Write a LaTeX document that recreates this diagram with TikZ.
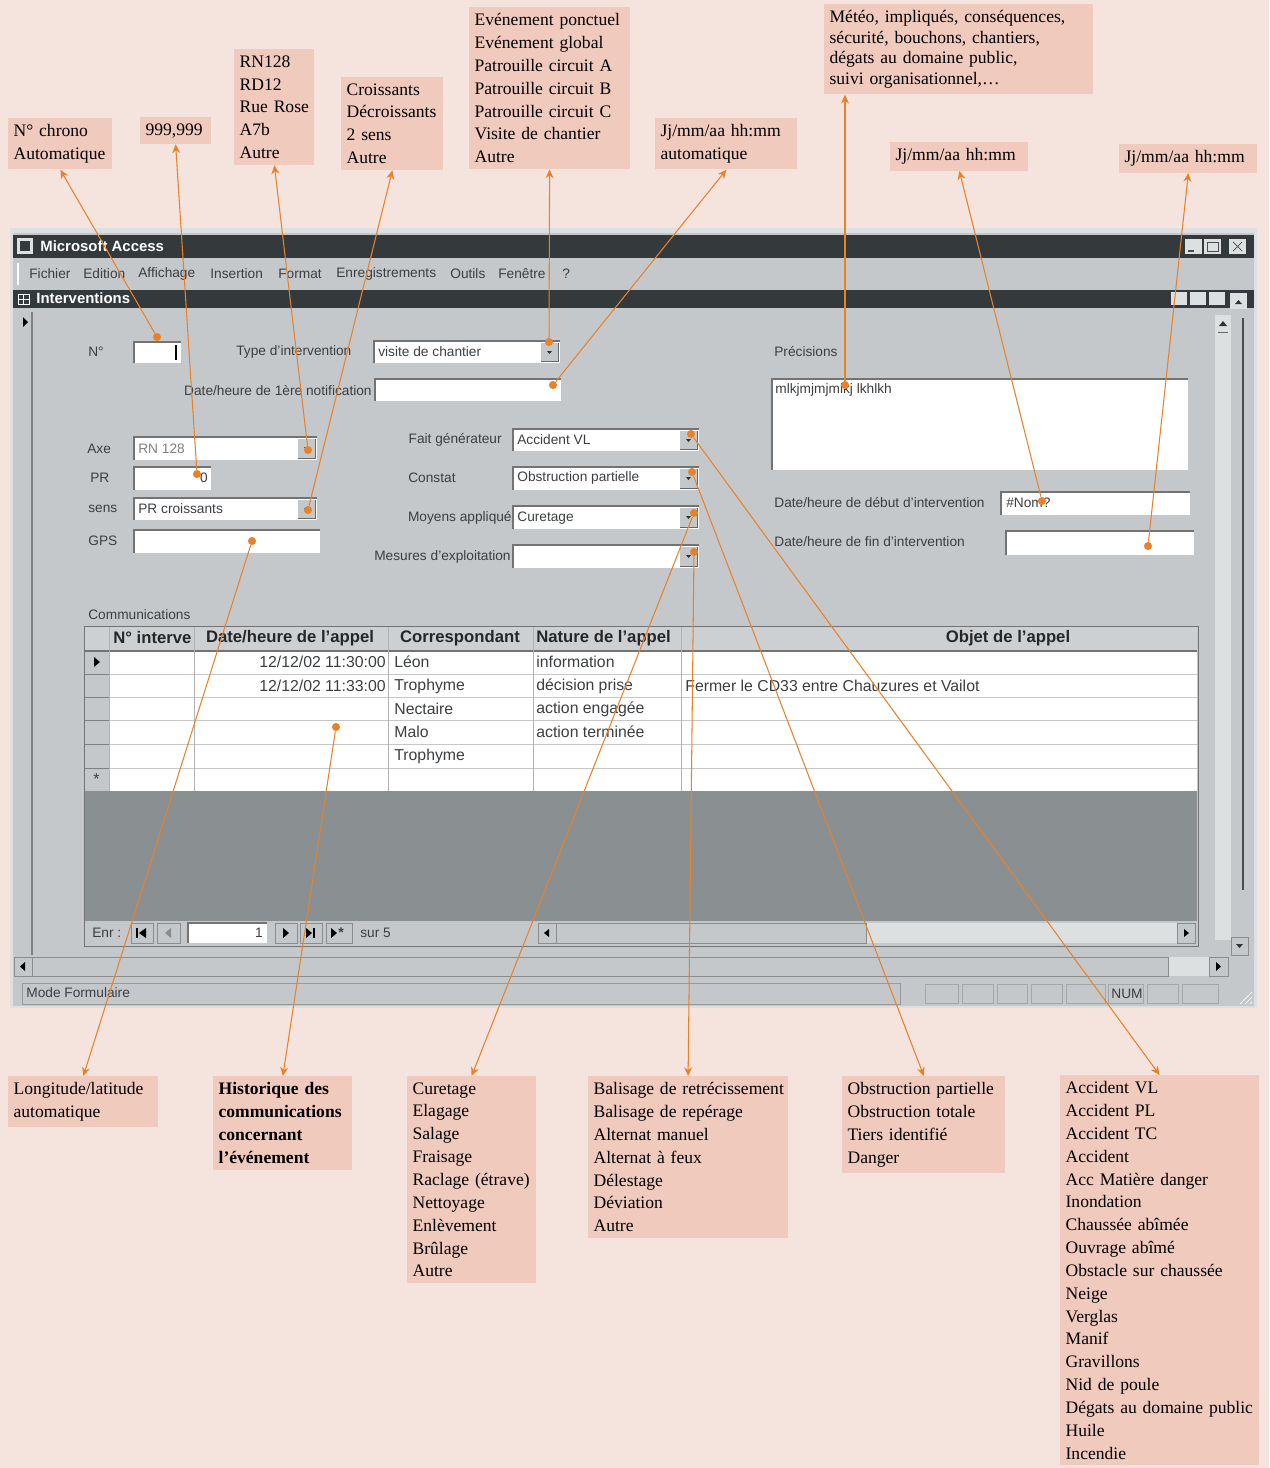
\documentclass[tikz,border=0pt]{standalone}
\usepackage{fontspec}
\setmainfont{Liberation Serif}
\setsansfont{Liberation Sans}
\usepackage{tikz}
\usetikzlibrary{arrows.meta,positioning}

\definecolor{bgpink}{HTML}{F5E3DD}
\definecolor{lblfill}{HTML}{F0CABC}
\definecolor{linkor}{HTML}{E8822A}
\definecolor{wingray}{HTML}{C4C8CB}
\definecolor{winlight}{HTML}{DDE0E1}
\definecolor{titlebar}{HTML}{34393B}
\definecolor{subdark}{HTML}{8A8F92}
\definecolor{uitext}{HTML}{3C3F41}

\begin{document}
\begin{tikzpicture}[
    x=0.02cm, y=-0.02cm,
    lbl/.style={fill=lblfill, anchor=north west, align=left, inner xsep=3pt, inner ysep=3.5pt,
                font=\fontsize{10}{13}\selectfont, text width=#1},
    ui/.style={font=\fontsize{7.8}{9}\sffamily, text=uitext, inner sep=0pt, anchor=west},
    cell/.style={font=\fontsize{9}{10}\sffamily, text=uitext, inner sep=0pt, anchor=west},
    hdr/.style={font=\fontsize{9.5}{10}\sffamily\bfseries, text=black!85, inner sep=0pt},
    sunk/.style={draw=black!55, line width=0.9pt},
    btn/.style={fill=wingray, draw=black!45, line width=0.5pt},
    dot/.style={circle, fill=linkor, inner sep=0pt, minimum size=4.6pt},
    conn/.style={draw=linkor, line width=0.6pt, -{Stealth[length=5pt,width=4.5pt]}},
  ]
  \fill[bgpink] (0,0) rectangle (1269,1468);
  \useasboundingbox (0,0) rectangle (1269,1468);

  % --- Access window ---
  \fill[winlight] (10,228) rectangle (1257,1008);
  \fill[wingray] (13,233) rectangle (1254,1006);
  \fill[titlebar] (13,235) rectangle (1254,258);
  \fill[winlight] (17,238) rectangle (33,254);
  \fill[titlebar] (20,241) rectangle (30,251);
  \node[ui, font=\fontsize{8.5}{9}\sffamily\bfseries, text=white] (apptitle) at (40,246) {Microsoft Access};
  \foreach \bx in {1185,1204,1229} {
    \fill[winlight] (\bx,239) rectangle +(17,15);
  }
  \draw[black!70, line width=1pt] (1188,251) -- (1194,251);
  \draw[black!70] (1207,242) rectangle (1218,251);
  \draw[black!70] (1233,242) -- (1242,251) (1233,251) -- (1242,242);

  % menu bar
  \draw[white, line width=1pt] (18,263) -- (18,285);
  \foreach \m/\x in {Fichier/29, Edition/83, Affichage/138, Insertion/210, Format/278,
                     Enregistrements/336, Outils/450, Fenêtre/498, ?/562} {
    \node[ui] at (\x,274) {\m};
  }

  % form title bar
  \fill[titlebar] (13,290) rectangle (1254,308);
  \draw[white] (18,294) rectangle (29,304) (18,299) -- (29,299) (23,294) -- (23,304);
  \node[ui, font=\fontsize{8.5}{9}\sffamily\bfseries, text=white] (doctitle) at (36,298) {Interventions};
  \foreach \bx in {1171,1190,1209} {
    \fill[winlight] (\bx,292) rectangle +(16,13);
  }
  \fill[winlight] (1230,293) rectangle (1247,309);
  \fill[black!80] (1235,304) -- (1242,304) -- (1238.5,300) -- cycle;

  % record selector + right scrollbar
  \draw[black!50, line width=0.8pt] (32,312) -- (32,955);
  \fill[black] (23,317) -- (28,322) -- (23,327) -- cycle;
  \fill[winlight] (1215,315) rectangle (1231,940);
  \fill[black!80] (1219,326) -- (1227,326) -- (1223,321) -- cycle;
  \draw[black!60] (1218,332) -- (1228,332);
  \draw[black!70, line width=1pt] (1243,318) -- (1243,890);
  \draw[btn] (1231,937) rectangle (1248,955);
  \fill[black!80] (1236,944) -- (1243,944) -- (1239.5,948) -- cycle;

  % --- form fields ---
  \foreach \xa/\ya/\xb/\yb in {134/342/181/363, 374/341/560/363, 375/379/561/401,
      134/437/317/460, 134/467/211/490, 134/498/317/520, 134/530/320/553,
      513/429/699/451, 513/467/699/490, 513/506/699/529, 513/545/699/568,
      772/379/1188/470, 1001/492/1190/515, 1006/531/1194/555} {
    \fill[white] (\xa,\ya) rectangle (\xb,\yb);
    \draw[sunk] (\xa,\yb) |- (\xb,\ya);
  }
  \draw[black, line width=1.2pt] (176,345) -- (176,360);
  % combo buttons
  \foreach \xb/\ya/\yb in {560/341/363, 317/437/460, 317/498/520, 699/429/451,
                           699/467/490, 699/506/529, 699/545/568} {
    \fill[wingray] (\xb-19,\ya+2) rectangle (\xb-2,\yb-2);
    \draw[black!60] (\xb-19,\yb-2) -- (\xb-2,\yb-2) -- (\xb-2,\ya+2);
    \fill[black!80] (\xb-13,\ya+10) -- (\xb-8,\ya+10) -- (\xb-10.5,\ya+13) -- cycle;
  }

  % field labels
  \node[ui] at (88,352) {N°};
  \node[ui] at (236,352) {Type d'intervention};
  \node[ui, anchor=east] at (372,391) {Date/heure de 1ère notification};
  \node[ui] at (87,449) {Axe};
  \node[ui] at (90,478) {PR};
  \node[ui] at (88,509) {sens};
  \node[ui] at (88,541) {GPS};
  \node[ui, anchor=east] at (502,440) {Fait générateur};
  \node[ui] at (408,478) {Constat};
  \node[ui, anchor=east] at (512,518) {Moyens appliqué};
  \node[ui, anchor=east] at (511,557) {Mesures d'exploitation};
  \node[ui] at (774,352) {Précisions};
  \node[ui] at (774,503) {Date/heure de début d'intervention};
  \node[ui] at (774,542) {Date/heure de fin d'intervention};

  % field values
  \node[ui] at (378,352) {visite de chantier};
  \node[ui, text=black!50] at (138,449) {RN 128};
  \node[ui, anchor=east] at (208,478) {0};
  \node[ui] at (138,509) {PR croissants};
  \node[ui] at (517,440) {Accident VL};
  \node[ui] at (517,478) {Obstruction partielle};
  \node[ui] at (517,518) {Curetage};
  \node[ui] at (775,390) {mlkjmjmjmlkj lkhlkh};
  \node[ui] at (1006,503) {\#Nom?};

  % --- Communications subform ---
  \node[ui] at (88,615) {Communications};
  \fill[white] (85,651) rectangle (1197,791);
  \fill[wingray!85!white] (85,627) rectangle (1197,651);
  \fill[wingray] (85,651) rectangle (109,791);
  \foreach \ry in {674,697,720,744,768} {
    \draw[black!22] (109,\ry) -- (1197,\ry);
    \draw[black!50] (85,\ry) -- (109,\ry);
  }
  \draw[black!55, line width=0.8pt] (85,651) -- (1197,651);
  \foreach \cx in {109,194,388,533,681} {
    \draw[black!30] (\cx,627) -- (\cx,791);
  }
  \node[hdr, anchor=west] at (113,638) {N° interve};
  \node[hdr] at (290,638) {Date/heure de l'appel};
  \node[hdr] at (460,638) {Correspondant};
  \node[hdr, anchor=west] at (536,638) {Nature de l'appel};
  \node[hdr] at (1008,638) {Objet de l'appel};
  \fill[black] (94,657) -- (100,662) -- (94,667) -- cycle;
  \node[cell] at (93,779) {*};

  \node[cell, anchor=east] at (386,662) {12/12/02 11:30:00};
  \node[cell, anchor=east] at (386,686) {12/12/02 11:33:00};
  \foreach \who/\ry in {Léon/662, Trophyme/686, Nectaire/709, Malo/732, Trophyme/756} {
    \node[cell] at (394,\ry) {\who};
  }
  \foreach \nat/\ry in {information/662, décision prise/686, action engagée/709, action terminée/732} {
    \node[cell] at (536,\ry) {\nat};
  }
  \node[cell] at (685,686) {Fermer le CD33 entre Chauzures et Vailot};

  \fill[subdark] (85,791) rectangle (1197,921);
  \draw[black!55] (84,626) rectangle (1198,946);

  % navigation bar
  \node[ui] at (92,933) {Enr :};
  \foreach \xa/\xb in {131/153, 157/180, 275/297, 300/322, 326/352} {
    \draw[btn] (\xa,923) rectangle (\xb,943);
  }
  \draw[black, line width=0.9pt] (137,928) -- (137,938);
  \fill[black] (146,928) -- (139,933) -- (146,938) -- cycle;
  \fill[black!45] (171,928) -- (165,933) -- (171,938) -- cycle;
  \fill[black] (283,928) -- (289,933) -- (283,938) -- cycle;
  \fill[black] (306,928) -- (312,933) -- (306,938) -- cycle;
  \draw[black, line width=0.9pt] (314,928) -- (314,938);
  \fill[black] (331,928) -- (337,933) -- (331,938) -- cycle;
  \node[cell, font=\fontsize{8}{9}\sffamily\bfseries] at (338,933) {*};
  \fill[white] (188,923) rectangle (267,943);
  \draw[sunk] (188,943) |- (267,923);
  \node[ui, anchor=east] at (263,933) {1};
  \node[ui] at (360,933) {sur 5};
  \fill[winlight] (538,923) rectangle (1195,943);
  \draw[btn] (556,923) rectangle (866,943);
  \draw[btn] (538,923) rectangle (556,943);
  \draw[btn] (1177,923) rectangle (1195,943);
  \fill[black] (549,929) -- (544,933) -- (549,937) -- cycle;
  \fill[black] (1184,929) -- (1189,933) -- (1184,937) -- cycle;

  % window scrollbar and status bar
  \fill[winlight] (14,957) rectangle (1228,976);
  \draw[btn] (32,957) rectangle (1168,976);
  \draw[btn] (14,957) rectangle (32,976);
  \draw[btn] (1209,957) rectangle (1228,976);
  \fill[black] (25,962) -- (20,966.5) -- (25,971) -- cycle;
  \fill[black] (1216,962) -- (1221,966.5) -- (1216,971) -- cycle;
  \draw[black!40] (22,983) rectangle (900,1004);
  \node[ui] at (26,993) {Mode Formulaire};
  \foreach \xa/\xb in {925/958, 962/993, 997/1027, 1031/1062, 1066/1105, 1108/1143, 1147/1178, 1182/1218} {
    \draw[black!35] (\xa,984) rectangle (\xb,1003);
  }
  \node[ui] at (1111,994) {NUM};
  \foreach \g in {0,5,10} {
    \draw[white] (1250-\g,1004) -- (1252,1002-\g);
  }

  % --- labels above ---
  \node[lbl=1.87cm] (nchrono) at (8,118) {N° chrono\\Automatique};
  \node[lbl=1.2cm] (prval) at (140,117) {999,999};
  \node[lbl=1.39cm] (axelist) at (234,49) {RN128\\RD12\\Rue Rose\\A7b\\Autre};
  \node[lbl=1.83cm] (senslist) at (341,77) {Croissants\\Décroissants\\2 sens\\Autre};
  \node[lbl=3.0cm] (typelist) at (469,7) {Evénement ponctuel\\Evénement global\\Patrouille circuit A\\Patrouille circuit B\\Patrouille circuit C\\Visite de chantier\\Autre};
  \node[lbl=2.63cm] (notifauto) at (655,118) {Jj/mm/aa hh:mm\\automatique};
  \node[lbl=5.17cm, font=\fontsize{10}{11.7}\selectfont] (precislist) at (824,4) {Météo, impliqués, conséquences,\\sécurité, bouchons, chantiers,\\dégats au domaine public,\\suivi organisationnel,\dots};
  \node[lbl=2.55cm] (debutfmt) at (890,142) {Jj/mm/aa hh:mm};
  \node[lbl=2.55cm] (finfmt) at (1119,144) {Jj/mm/aa hh:mm};

  % --- labels below ---
  \node[lbl=2.79cm] (gpsinfo) at (8,1076) {Longitude/latitude\\automatique};
  \node[lbl=2.57cm, font=\fontsize{10}{13}\selectfont\bfseries] (histo) at (213,1076) {Historique des\\communications\\concernant\\l'événement};
  \node[lbl=2.36cm] (moyenslist) at (407,1076) {Curetage\\Elagage\\Salage\\Fraisage\\Raclage (étrave)\\Nettoyage\\Enlèvement\\Brûlage\\Autre};
  \node[lbl=3.78cm] (mesureslist) at (588,1076) {\mbox{Balisage de retrécissement}\\Balisage de repérage\\Alternat manuel\\Alternat à feux\\Délestage\\Déviation\\Autre};
  \node[lbl=3.05cm] (constatlist) at (842,1076) {Obstruction partielle\\Obstruction totale\\Tiers identifié\\Danger};
  \node[lbl=3.76cm] (faitlist) at (1060,1075) {Accident VL\\Accident PL\\Accident TC\\Accident\\Acc Matière danger\\Inondation\\Chaussée abîmée\\Ouvrage abîmé\\Obstacle sur chaussée\\Neige\\Verglas\\Manif\\Gravillons\\Nid de poule\\\mbox{Dégats au domaine public}\\Huile\\Incendie};

  % --- dots on the fields ---
  \node[dot] (dno) at (157,337) {};
  \node[dot] (dpr) at (197,474) {};
  \node[dot] (daxe) at (308,450) {};
  \node[dot] (dsens) at (308,510) {};
  \node[dot] (dtype) at (549,342) {};
  \node[dot] (dnotif) at (553,385) {};
  \node[dot] (dprec) at (845,385) {};
  \node[dot] (ddebut) at (1042,501) {};
  \node[dot] (dfin) at (1148,546) {};
  \node[dot] (dgps) at (252,541) {};
  \node[dot] (dhisto) at (336,727) {};
  \node[dot] (dfait) at (691,434) {};
  \node[dot] (dconstat) at (692,472) {};
  \node[dot] (dmoyens) at (694,513) {};
  \node[dot] (dmesures) at (694,552) {};

  % --- connectors ---
  \draw[conn] (dno) -- (nchrono.south);
  \draw[conn] (dpr) -- (prval.south);
  \draw[conn] (daxe) -- (axelist.south);
  \draw[conn] (dsens) -- (senslist.south);
  \draw[conn] (dtype) -- (typelist.south);
  \draw[conn] (dnotif) -- (notifauto.south);
  \draw[conn] (dprec) -- (dprec |- precislist.south);
  \draw[conn] (ddebut) -- (debutfmt.south);
  \draw[conn] (dfin) -- (finfmt.south);
  \draw[conn] (dgps) -- (gpsinfo.north);
  \draw[conn] (dhisto) -- (histo.north);
  \draw[conn] (dmoyens) -- (moyenslist.north);
  \draw[conn] (dmesures) -- (mesureslist.north);
  \draw[conn] (dconstat) -- (constatlist.north);
  \draw[conn] (dfait) -- (faitlist.north);
\end{tikzpicture}
\end{document}
